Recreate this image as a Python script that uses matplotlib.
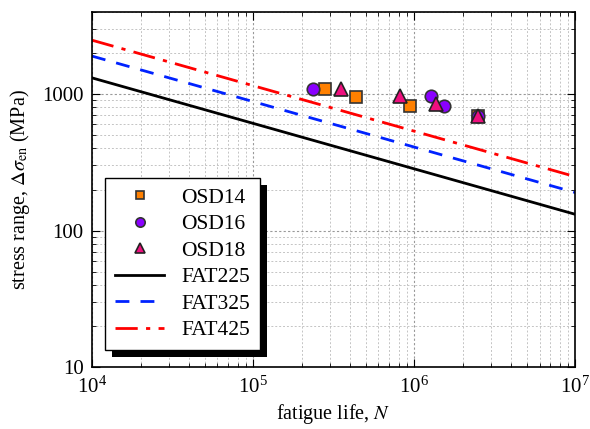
import numpy as np
import matplotlib
matplotlib.use("Agg")
from matplotlib import pyplot as plt
from matplotlib.patches import Rectangle

# test data (fatigue life, stress range in MPa)
osd14_n = [2.80e5, 4.35e5, 9.4e5, 2.5e6]
osd14_s = [1088, 955, 816, 690]
osd16_n = [2.34e5, 1.27e6, 1.53e6, 2.5e6]
osd16_s = [1088, 967, 816, 690]
osd18_n = [3.52e5, 8.2e5, 1.37e6, 2.5e6]
osd18_s = [1100, 975, 840, 690]

fat_classes = [225, 325, 425]
fat_styles = [("k", "-"), ("#0022ff", (0, (5, 4))), ("#ff0000", (0, (8, 3, 1.5, 3)))]

plt.rcParams["font.family"] = ["Liberation Serif", "DejaVu Serif"]
plt.rcParams["mathtext.fontset"] = "stix"
plt.rcParams["font.size"] = 14

fig = plt.figure(figsize=(5.9, 4.29), dpi=100)
ax = fig.add_axes([0.156, 0.1445, 0.819, 0.8275])

ax.plot(osd14_n, osd14_s, "s", color="#ff8000", mec="#333333", mew=1.2, ms=8, label="OSD14", zorder=3)
ax.plot(osd16_n, osd16_s, "o", color="#8a00ff", mec="#333333", mew=1.2, ms=9, label="OSD16", zorder=3)
ax.plot(osd18_n, osd18_s, "^", color="#ee0f7e", mec="#222222", mew=1.2, ms=10, label="OSD18", zorder=3)

n = np.array([1e4, 1e7])
for fat, (c, ls) in zip(fat_classes, fat_styles):
    ax.plot(n, fat * (2e6 / n) ** (1 / 3), color=c, ls=ls, lw=2, label="FAT%d" % fat, zorder=2)

ax.set_xscale("log")
ax.set_yscale("log")
ax.set_xlim(1e4, 1e7)
ax.set_ylim(10, 4000)
ax.set_yticks([10, 100, 1000])
ax.set_yticklabels(["10", "100", "1000"])

ax.grid(True, which="major", ls=(0, (2, 2)), color="#999999", lw=0.8)
ax.grid(True, which="minor", ls=(0, (2, 2)), color="#c4c4c4", lw=0.7)
ax.tick_params(which="both", direction="in", top=True, right=True)
ax.tick_params(which="major", length=6, labelsize=15)
ax.tick_params(axis="x", which="major", pad=7)
ax.tick_params(axis="y", which="major", pad=6)
ax.tick_params(which="minor", length=3)
for sp in ax.spines.values():
    sp.set_linewidth(1.2)

ax.set_xlabel("fatigue life, $N$", fontsize=14.5, labelpad=3)
ax.set_ylabel(r"stress range, $\Delta\sigma_{\rm en}$ (MPa)", fontsize=14.5, labelpad=7)

leg = ax.legend(loc="lower left", bbox_to_anchor=(0.027, 0.048), borderaxespad=0, fancybox=False,
                framealpha=1, edgecolor="k", fontsize=15.5, handlelength=2.3, borderpad=0.45,
                labelspacing=0.3, handletextpad=0.8, markerscale=0.75)
leg.get_frame().set_linewidth(1.0)
leg.set_zorder(6)

# solid drop shadow behind the legend box
fig.canvas.draw()
bb = leg.get_window_extent()
shadow = Rectangle((bb.x0 + 7, bb.y0 - 7), bb.width, bb.height, transform=None,
                   facecolor="k", edgecolor="none", zorder=5.5)
ax.add_artist(shadow)

fig.savefig("out.png", dpi=100)
